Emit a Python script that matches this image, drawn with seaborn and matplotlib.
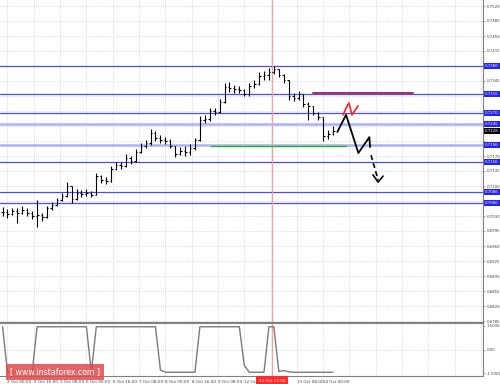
import numpy as np
import pandas as pd
import matplotlib
matplotlib.use("Agg")
import matplotlib.pyplot as plt
import matplotlib.transforms as mtransforms
import seaborn as sns

# ---------------- data ----------------
bar_hours = list(range(13, 215, 3))  # trading hours since 1 Oct 08:00 (3h bars)
close = [0.7039, 0.7035, 0.7042, 0.7037, 0.7044, 0.7037, 0.7030, 0.7032, 0.7028, 0.7049,
         0.7056, 0.7067, 0.7077, 0.7100, 0.7070, 0.7084, 0.7081, 0.7084, 0.7079, 0.7123,
         0.7114, 0.7112, 0.7140, 0.7149, 0.7147, 0.7165, 0.7158, 0.7179, 0.7193, 0.7200,
         0.7224, 0.7212, 0.7207, 0.7205, 0.7193, 0.7175, 0.7182, 0.7179, 0.7189, 0.7207,
         0.7254, 0.7256, 0.7275, 0.7273, 0.7296, 0.7331, 0.7329, 0.7326, 0.7324, 0.7315,
         0.7333, 0.7338, 0.7357, 0.7359, 0.7366, 0.7373, 0.7359, 0.7347, 0.7310, 0.7305,
         0.7315, 0.7291, 0.7287, 0.7270, 0.7261, 0.7217, 0.7221, 0.7228]
high = [0.7051, 0.7046, 0.7049, 0.7049, 0.7053, 0.7049, 0.7042, 0.7067, 0.7037, 0.7053,
        0.7063, 0.7072, 0.7084, 0.7109, 0.7100, 0.7093, 0.7091, 0.7093, 0.7088, 0.7130,
        0.7126, 0.7121, 0.7147, 0.7156, 0.7156, 0.7175, 0.7170, 0.7186, 0.7200, 0.7207,
        0.7233, 0.7228, 0.7219, 0.7214, 0.7210, 0.7193, 0.7191, 0.7193, 0.7198, 0.7212,
        0.7263, 0.7266, 0.7282, 0.7282, 0.7303, 0.7340, 0.7343, 0.7336, 0.7333, 0.7326,
        0.7340, 0.7347, 0.7366, 0.7368, 0.7375, 0.7380, 0.7373, 0.7361, 0.7347, 0.7317,
        0.7322, 0.7315, 0.7296, 0.7287, 0.7273, 0.7262, 0.7231, 0.7240]
low = [0.7030, 0.7025, 0.7032, 0.7014, 0.7035, 0.7030, 0.7023, 0.7004, 0.7018, 0.7025,
       0.7044, 0.7053, 0.7065, 0.7074, 0.7060, 0.7067, 0.7074, 0.7077, 0.7074, 0.7079,
       0.7107, 0.7105, 0.7109, 0.7137, 0.7140, 0.7144, 0.7151, 0.7156, 0.7177, 0.7189,
       0.7196, 0.7205, 0.7200, 0.7198, 0.7189, 0.7168, 0.7172, 0.7170, 0.7172, 0.7184,
       0.7205, 0.7247, 0.7252, 0.7266, 0.7270, 0.7294, 0.7319, 0.7317, 0.7317, 0.7310,
       0.7310, 0.7329, 0.7336, 0.7347, 0.7347, 0.7361, 0.7354, 0.7340, 0.7301, 0.7298,
       0.7301, 0.7284, 0.7254, 0.7266, 0.7254, 0.7205, 0.7210, 0.7219]
indicator = [1.45, -1.45, -1.45, -1.45, -1.45, -1.45, -1.45, 1.45, 1.45, 1.45,
             1.45, 1.45, 1.45, 1.45, 1.45, 1.45, 1.45, 1.45, -1.45, 1.45,
             1.45, 1.45, 1.45, 1.45, 1.45, 1.45, 1.45, 1.45, 1.45, 1.45,
             1.45, 1.45, -1.30, -1.45, -1.45, -1.45, -1.45, -1.45, -1.45, -1.45,
             1.45, 1.45, 1.45, 1.45, 1.45, 1.45, 1.45, 1.45, 1.45, -1.00,
             -1.45, -1.45, -1.45, -1.45, 1.45, 1.45, -1.40, -1.35, -1.42, -1.45,
             -1.45, -1.45, -1.45, -1.45, -1.45, -1.45, -1.45, -1.45]

level_blue = [0.7380, 0.7315, 0.7270, 0.7156, 0.7086, 0.7060]
level_light = [0.7245, 0.7196]
current_price = 0.7228
red_level = 0.7316
red_span = [201.8, 262.6]
green_level = 0.7193
green_span = [139.8, 221.9]
vline_hour = 176.9
vline_label = "12 Oct 17:00"

tick_hours = [16, 32, 48, 64, 80, 96, 112, 128, 144, 160, 176, 192, 208]
tick_labels = ["2 Oct 00:00", "2 Oct 16:00", "5 Oct 08:00", "6 Oct 00:00", "6 Oct 16:00",
               "7 Oct 08:00", "8 Oct 00:00", "8 Oct 16:00", "9 Oct 08:00", "12 Oct 00:00",
               "12 Oct 16:00", "13 Oct 08:00", "14 Oct 00:00"]
grid_hours = [16 * k for k in range(1, 20)]
price_ticks = [round(0.7520 - 0.0035 * k, 4) for k in range(22)]

# hand-drawn forecast marks
fc_x = [216.6, 221.9, 229.4, 236.1, 236.5]
fc_y = [0.7226, 0.7266, 0.7177, 0.7214, 0.7191]
dash_x = [237.1, 241.4]
dash_y = [0.7172, 0.7114]
head_x = [238.3, 241.4, 244.4]
head_y = [0.7126, 0.7109, 0.7123]
red1_x = [220.1, 223.1]
red1_y = [0.7266, 0.7291]
red2_x = [223.7, 225.5, 229.2]
red2_y = [0.7294, 0.7266, 0.7287]

# ---------------- figure ----------------
sns.set_style("white")
plt.rcParams['font.family'] = ['DejaVu Sans']
fig = plt.figure(figsize=(5, 3.84), dpi=100)
W, H = 500, 384
ax = fig.add_axes([0, 1 - 322 / H, 483 / W, 322 / H])
axs = fig.add_axes([0, 1 - 376 / H, 483 / W, 53 / H], sharex=ax)

df = pd.DataFrame({"h": bar_hours, "close": close, "high": high, "low": low})
df["open"] = df["close"].shift(1).fillna(df["close"].iloc[0])
df["high"] = df[["high", "open", "close"]].max(axis=1)
df["low"] = df[["low", "open", "close"]].min(axis=1)

grid_kw = dict(color="#cfcfcf", lw=0.5, ls=(0, (1.5, 1.5)))
for a in (ax, axs):
    for g in grid_hours:
        a.axvline(g, zorder=0, **grid_kw)
for p in price_ticks:
    ax.axhline(p, zorder=0, **grid_kw)
axs.axhline(0, zorder=0, **grid_kw)

# horizontal levels
for lv in level_blue:
    ax.axhline(lv, color="#4a4aff", lw=0.9, zorder=1)
for lv in level_light:
    ax.axhline(lv, color="#aab2fa", lw=1.8, zorder=1)
ax.plot(red_span, [red_level, red_level], color="#b02c58", lw=1.4, zorder=2)
ax.plot(green_span, [green_level, green_level], color="#22b422", lw=1.0, zorder=2)

# vertical marker line
for a in (ax, axs):
    a.axvline(vline_hour, color="#ff9a9a", lw=0.8, zorder=1)

# OHLC bars
ax.vlines(df["h"], df["low"], df["high"], color="black", lw=0.8, zorder=3)
ax.hlines(df["open"], df["h"] - 0.9, df["h"], color="black", lw=0.8, zorder=3)
ax.hlines(df["close"], df["h"], df["h"] + 0.9, color="black", lw=0.8, zorder=3)

# forecast drawings
ax.plot(fc_x, fc_y, color="black", lw=1.3, zorder=4)
ax.plot(dash_x, dash_y, color="black", lw=1.2, ls=(0, (3, 2)), zorder=4)
ax.plot(head_x, head_y, color="black", lw=1.2, zorder=4)
ax.plot(red1_x, red1_y, color="#ff2020", lw=1.2, zorder=4)
ax.plot(red2_x, red2_y, color="#ff2020", lw=1.2, zorder=4)

# indicator
ind = pd.DataFrame({"h": bar_hours, "v": indicator})
sns.lineplot(data=ind, x="h", y="v", ax=axs, color="#7a7a7a", lw=1.0)

# limits
ax.set_xlim(11.44, 305.2)
ax.set_ylim(0.7520 - 316 * 0.0035 / 15, 0.7520 + 6 * 0.0035 / 15)
axs.set_ylim(-1.69, 1.69)

# axes styling
for a in (ax, axs):
    for s in ("left", "top", "bottom"):
        a.spines[s].set_visible(False)
    a.spines["right"].set_color("#808080")
    a.spines["right"].set_linewidth(0.8)
axs.spines["top"].set_visible(True)
axs.spines["top"].set_color("#808080")
axs.spines["top"].set_linewidth(1.5)
axs.spines["bottom"].set_visible(True)
axs.spines["bottom"].set_color("#808080")
axs.spines["bottom"].set_linewidth(0.8)

boxed = level_blue + level_light + [current_price]
ax.yaxis.tick_right()
ax.set_yticks(price_ticks)
ax.set_yticklabels(["" if min(abs(p - b) for b in boxed) < 0.0011 else f"{p:.4f}"
                    for p in price_ticks])
ax.tick_params(axis="y", length=1.5, width=0.5, color="#808080", labelsize=2.8,
               labelcolor="#404040", pad=1.0)
ax.tick_params(axis="x", length=0, labelbottom=False)
ax.set_xlabel("")
ax.set_ylabel("")

axs.yaxis.tick_right()
axs.set_yticks([1.5006, 0.0, -1.5006])
axs.set_yticklabels(["1.5006", "0.00", "-1.5006"])
axs.tick_params(axis="y", length=1.5, width=0.5, color="#808080", labelsize=2.8,
                labelcolor="#404040", pad=1.0)
axs.set_xticks(tick_hours)
axs.set_xticklabels(tick_labels)
axs.tick_params(axis="x", length=2, width=0.5, color="#808080", labelsize=3.0,
                labelcolor="#404040", pad=0.8)
for lab in axs.get_xticklabels():
    lab.set_ha("left")
axs.get_xticklabels()[10].set_visible(False)
axs.set_xlabel("")
axs.set_ylabel("")

# price boxes on the right axis
trans = mtransforms.blended_transform_factory(ax.transAxes, ax.transData)
for lv in level_blue + level_light:
    ax.text(1.004, lv, f"{lv:.4f}", transform=trans, fontsize=2.8, color="white",
            va="center", ha="left", clip_on=False, zorder=6,
            bbox=dict(boxstyle="square,pad=0.3", fc="#2424ee", ec="none"))
ax.text(1.004, current_price, f"{current_price:.4f}", transform=trans, fontsize=2.8,
        color="white", va="center", ha="left", clip_on=False, zorder=6,
        bbox=dict(boxstyle="square,pad=0.3", fc="black", ec="none"))

# time box under the vertical line
trans2 = mtransforms.blended_transform_factory(axs.transData, axs.transAxes)
axs.text(vline_hour, -0.085, vline_label, transform=trans2, fontsize=3.0, color="white",
         ha="center", va="center", clip_on=False, zorder=6,
         bbox=dict(boxstyle="square,pad=0.6", fc="#ff2a2a", ec="none"))

# watermark
fig.text(10 / W, 1 - 372 / H, "[ www.instaforex.com ]", fontsize=5.6, color="white",
         ha="left", va="center", zorder=10,
         bbox=dict(boxstyle="square,pad=0.5", fc="#e04a4a", ec="none", alpha=0.85))

fig.savefig("out.png", dpi=100)
